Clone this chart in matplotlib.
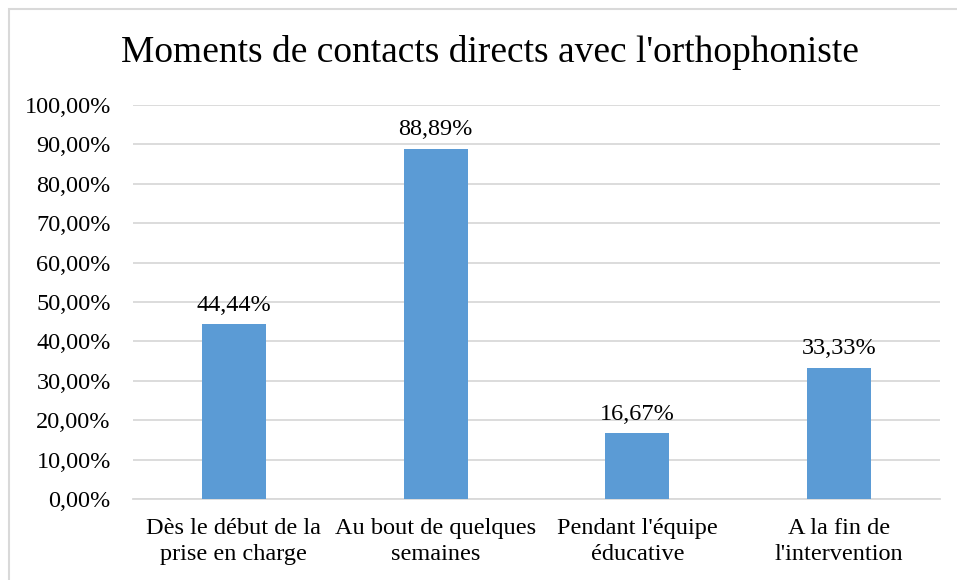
import matplotlib
matplotlib.use("Agg")
import matplotlib.pyplot as plt
import matplotlib.patches as patches
import numpy as np

plt.rcParams['font.family'] = ['Liberation Serif', 'DejaVu Serif']

# Data
categories = ["Dès le début de la\nprise en charge", "Au bout de quelques\nsemaines",
              "Pendant l'équipe\néducative", "A la fin de\nl'intervention"]
values = [44.44, 88.89, 16.67, 33.33]
yticks = [0, 10, 20, 30, 40, 50, 60, 70, 80, 90, 100]

fig = plt.figure(figsize=(9.57, 5.8), dpi=100)
ax = fig.add_axes([133 / 957, 1 - 499 / 580, (940 - 133) / 957, (499 - 105) / 580])

# Outer chart border
fig.patches.append(patches.Rectangle((9 / 957, -0.01), 1.0, 1 - 9 / 580 + 0.01,
                                     transform=fig.transFigure, fill=False,
                                     edgecolor='#d9d9d9', linewidth=1.5))

x = np.arange(len(categories))
bars = ax.bar(x, values, width=0.317, color='#5b9bd5', zorder=3)

for xi, v in zip(x, values):
    ax.annotate(f"{v:.2f}%".replace('.', ','), (xi, v), xytext=(0, 6),
                textcoords='offset points', ha='center', va='bottom',
                fontsize=17.5, color='#000000', zorder=4)

ax.set_xlim(-0.5, len(categories) - 0.5)
ax.set_ylim(0, 100)
ax.set_yticks(yticks)
ax.set_yticklabels([f"{t:.2f}%".replace('.', ',') for t in yticks], fontsize=17.5)
ax.set_xticks(x)
ax.set_xticklabels(categories, fontsize=17.5, linespacing=1.3)
ax.tick_params(axis='y', length=0, pad=16)
ax.tick_params(axis='x', length=0, pad=14)
ax.grid(axis='y', color='#d9d9d9', linewidth=1.3, zorder=0)
for s in ['top', 'right', 'left']:
    ax.spines[s].set_visible(False)
ax.spines['bottom'].set_color('#d9d9d9')
ax.spines['bottom'].set_linewidth(1.3)

fig.text(490 / 957, 1 - 52 / 580, "Moments de contacts directs avec l'orthophoniste",
         ha='center', va='center', fontsize=27)

fig.savefig("out.png", dpi=100)
